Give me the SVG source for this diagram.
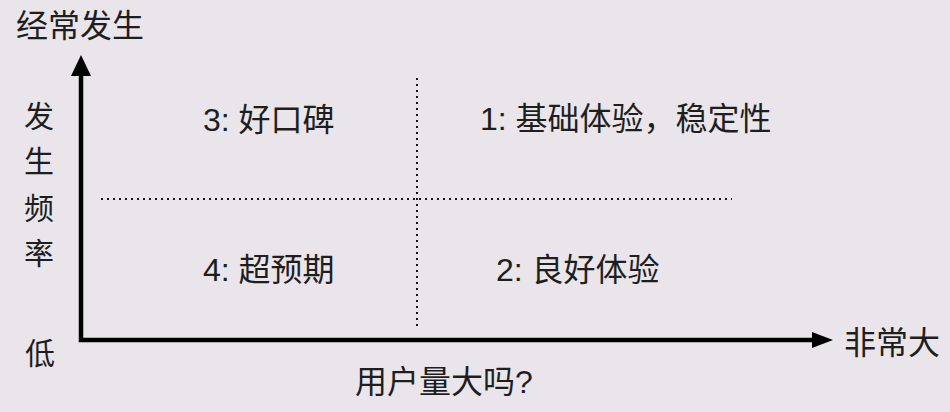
<svg xmlns="http://www.w3.org/2000/svg" width="950" height="412" viewBox="0 0 950 412">
<style>
.t{font-family:"Liberation Sans","Noto Sans CJK SC",sans-serif;fill:#1e1e1e;}
.big{font-size:32px;}
.lab{font-size:30px;}
.lab2{font-size:32px;}
.q{font-size:32px;}
.axis{stroke:#000;stroke-width:4.5;fill:none;}
.dot{stroke:#111;stroke-width:2;stroke-dasharray:2 4;fill:none;}
</style>
<rect width="950" height="412" fill="#e9e5ea"/>
<g id="connectors">
<path class="axis" d="M81,72 V340 H814"/>
<polygon points="81,55 71,76 91,76" fill="#000"/>
<polygon points="833,340 812,332 812,348" fill="#000"/>
<path class="dot" d="M101,199 H732"/>
<path class="dot" d="M417,78 V326"/>
</g>
<g id="title-top"><text class="t big" x="16" y="37">经常发生</text></g>
<g id="y-label">
<text class="t lab" x="24" y="127">发</text>
<text class="t lab" x="24" y="172">生</text>
<text class="t lab" x="24" y="219">频</text>
<text class="t lab" x="24" y="264">率</text>
</g>
<g id="low"><text class="t lab" x="25" y="364">低</text></g>
<g id="high"><text class="t lab2" x="844" y="354">非常大</text></g>
<g id="x-label"><text class="t lab2" x="355" y="393">用户量大吗?</text></g>
<g id="q3"><text class="t q" x="203" y="131">3: 好口碑</text></g>
<g id="q1"><text class="t q" x="480" y="130">1: 基础体验，稳定性</text></g>
<g id="q4"><text class="t q" x="203" y="281">4: 超预期</text></g>
<g id="q2"><text class="t q" x="496" y="281">2: 良好体验</text></g>
</svg>
